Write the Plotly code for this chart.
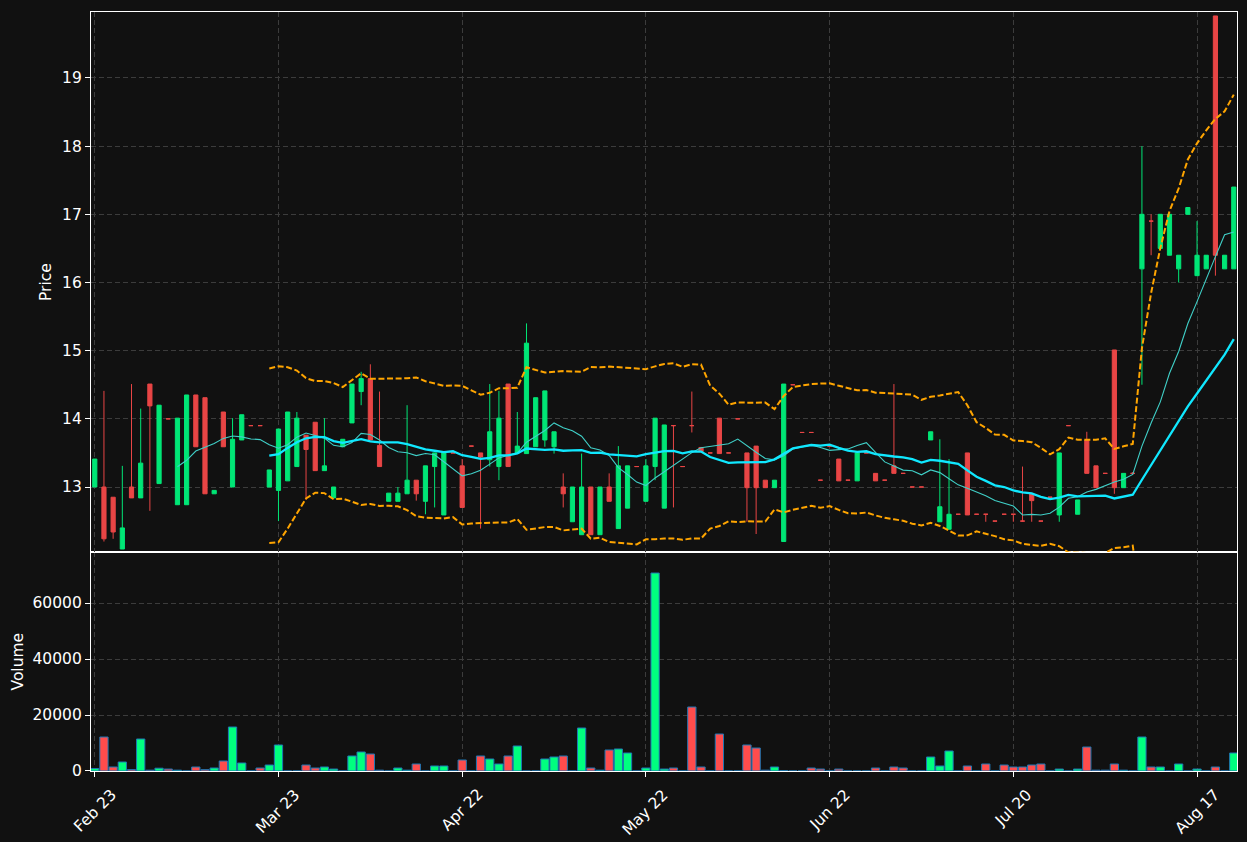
import plotly.graph_objects as go
import pandas as pd

# ---------------- data ----------------
tick_positions = [0, 20, 40, 60, 80, 100, 120]
tick_labels = ["Feb 23", "Mar 23", "Apr 22", "May 22", "Jun 22", "Jul 20", "Aug 17"]

opens = [
    13.0, 13.0, 12.85, 12.09, 13.0, 12.84, 14.51, 13.05, 14.0, 12.74,      # 0-9
    12.74, 14.35, 14.31, 12.90, 14.10, 13.0, 13.69, 13.9, 13.9, 13.0,      # 10-19
    12.95, 13.09, 13.30, 13.76, 13.95, 13.24, 12.84, 13.59, 13.94, 14.40,  # 20-29
    14.59, 13.61, 12.79, 12.79, 12.90, 13.10, 12.79, 13.30, 12.59, 13.5,   # 30-39
    13.31, 13.6, 13.50, 13.40, 13.30, 14.51, 13.50, 13.49, 13.59, 13.69,   # 40-49
    13.59, 13.0, 12.49, 12.30, 13.0, 12.30, 13.0, 12.39, 12.69, 13.3,      # 50-59
    12.79, 13.30, 12.69, 13.9, 13.3, 13.9, 13.58, 13.5, 14.01, 13.5,       # 60-69
    14.0, 13.50, 13.60, 13.10, 12.99, 12.20, 14.5, 13.8, 13.8, 13.1,       # 70-79
    13.6, 13.41, 13.1, 13.09, 13.5, 13.2, 13.1, 13.31, 13.2, 13.0,         # 80-89
    13.0, 13.69, 12.49, 12.38, 12.6, 13.50, 12.6, 12.6, 12.5, 12.6,        # 90-99
    12.6, 12.5, 12.90, 12.5, 12.85, 12.59, 13.9, 12.60, 13.69, 13.31,      # 100-109
    13.2, 15.01, 12.99, 13.2, 16.20, 16.9, 16.50, 16.40, 16.20, 17.0,      # 110-119
    16.10, 16.20, 19.91, 16.20, 16.20,                                     # 120-124
]
highs = [
    13.41, 14.41, 12.85, 13.31, 14.51, 14.15, 14.51, 14.2, 14.0, 14.01,
    14.35, 14.35, 14.31, 12.95, 14.10, 14.01, 14.06, 13.9, 13.9, 13.25,
    13.85, 14.10, 14.10, 13.76, 13.95, 14.01, 13.0, 13.70, 14.51, 14.69,
    14.80, 14.40, 12.91, 13.0, 14.20, 13.10, 13.31, 13.50, 13.50, 13.5,
    13.41, 13.6, 13.50, 14.51, 14.41, 14.51, 14.10, 15.40, 14.31, 14.41,
    13.81, 13.2, 13.0, 13.49, 13.0, 13.0, 13.2, 13.60, 13.31, 13.3,
    13.41, 14.01, 13.91, 13.9, 13.3, 14.40, 13.58, 13.5, 14.01, 13.5,
    14.0, 13.50, 13.60, 13.10, 13.10, 14.51, 14.5, 13.8, 13.8, 13.1,
    13.6, 13.41, 13.1, 13.50, 13.5, 13.2, 13.1, 14.51, 13.2, 13.0,
    13.0, 13.81, 13.70, 13.41, 12.6, 13.50, 12.6, 12.6, 12.5, 12.6,
    12.6, 13.30, 12.90, 12.5, 12.85, 13.50, 13.9, 12.81, 13.81, 13.31,
    13.2, 15.01, 13.20, 13.22, 18.0, 17.0, 17.0, 17.0, 16.40, 17.10,
    16.90, 16.40, 19.91, 16.40, 17.40,
]
lows = [
    13.0, 12.2, 12.24, 12.09, 12.84, 12.84, 12.65, 13.05, 14.0, 12.74,
    12.74, 13.59, 12.90, 12.90, 13.59, 13.0, 13.69, 13.9, 13.9, 13.0,
    12.50, 13.09, 13.30, 12.81, 13.24, 13.24, 12.84, 13.59, 13.94, 14.20,
    13.69, 13.30, 12.79, 12.79, 12.90, 12.80, 12.60, 12.70, 12.59, 13.5,
    12.70, 13.6, 12.39, 13.30, 13.10, 13.30, 13.50, 13.49, 13.59, 13.59,
    13.49, 12.7, 12.49, 12.30, 12.30, 12.30, 12.79, 12.39, 12.69, 13.3,
    12.79, 13.10, 12.69, 12.70, 13.3, 13.80, 13.52, 13.5, 13.49, 13.5,
    14.0, 12.49, 12.31, 12.99, 12.99, 12.20, 14.5, 13.8, 13.8, 13.1,
    13.6, 13.09, 13.1, 13.09, 13.5, 13.09, 13.1, 13.2, 13.2, 13.0,
    13.0, 13.69, 12.49, 12.38, 12.6, 12.59, 12.6, 12.49, 12.5, 12.6,
    12.49, 12.49, 12.49, 12.5, 12.85, 12.49, 13.9, 12.60, 13.20, 12.99,
    13.2, 12.90, 12.99, 13.18, 14.50, 16.40, 16.50, 16.40, 16.0, 17.0,
    16.10, 16.20, 16.10, 16.20, 16.20,
]
closes = [
    13.41, 12.24, 12.34, 12.40, 12.84, 13.35, 14.19, 14.2, 14.0, 14.01,
    14.35, 13.59, 12.90, 12.95, 13.59, 13.70, 14.06, 13.9, 13.9, 13.25,
    13.85, 14.10, 14.01, 13.55, 13.24, 13.31, 13.0, 13.70, 14.51, 14.59,
    13.69, 13.30, 12.91, 12.91, 13.10, 12.90, 13.31, 13.50, 13.50, 13.5,
    12.70, 13.6, 13.44, 13.81, 14.01, 13.30, 13.60, 15.11, 14.31, 14.41,
    13.81, 12.9, 13.0, 13.0, 12.30, 13.0, 12.79, 13.31, 13.31, 13.3,
    13.31, 14.01, 13.91, 13.9, 13.3, 13.9, 13.52, 13.5, 13.49, 13.5,
    14.0, 12.99, 12.99, 12.99, 13.10, 14.51, 14.5, 13.8, 13.8, 13.1,
    13.6, 13.09, 13.1, 13.50, 13.5, 13.09, 13.1, 13.2, 13.2, 13.0,
    13.0, 13.81, 12.71, 12.60, 12.6, 12.59, 12.6, 12.6, 12.5, 12.6,
    12.6, 12.5, 12.80, 12.5, 12.85, 13.50, 13.9, 12.81, 13.20, 12.99,
    13.2, 12.99, 13.20, 13.2, 17.0, 16.9, 17.0, 17.0, 16.40, 17.10,
    16.40, 16.40, 16.40, 16.40, 17.40,
]
volumes = [
    900, 12143, 1430, 3214, 500, 11430, 300, 1000, 700, 300,          # 0-9
    0, 1430, 480, 1070, 3570, 15714, 2857, 0, 1070, 2140,             # 10-19
    9286, 0, 0, 2140, 1070, 1430, 700, 0, 5357, 6786,                 # 20-29
    6070, 300, 0, 1070, 300, 2500, 0, 1786, 1786, 0,                  # 30-39
    3930, 0, 5357, 4286, 2500, 5357, 8930, 0, 0, 4286,                # 40-49
    5000, 5357, 0, 15357, 1070, 300, 7500, 7857, 6430, 0,             # 50-59
    1070, 70714, 700, 1070, 0, 22857, 1430, 0, 13214, 0,              # 60-69
    0, 9286, 8214, 300, 1430, 100, 0, 0, 1070, 700,                   # 70-79
    0, 700, 0, 0, 0, 1070, 0, 1430, 1070, 0,                          # 80-89
    0, 5000, 1786, 7143, 0, 1786, 0, 2500, 0, 2143,                   # 90-99
    1430, 1430, 2143, 2500, 0, 700, 0, 700, 8571, 300,                # 100-109
    300, 2500, 300, 0, 12143, 1430, 1430, 0, 2500, 0,                 # 110-119
    700, 0, 1430, 0, 6430,                                            # 120-124
]

# ---------------- derived ----------------
idx = list(range(len(closes)))
s = pd.Series(closes)
ma10 = s.rolling(10).mean()
ma20 = s.rolling(20).mean()
sd20 = s.rolling(20).std(ddof=0)
upper = ma20 + 2 * sd20
lower = ma20 - 2 * sd20

UP_C, DN_C = "#00e676", "#e84545"
UP_V, DN_V = "#00ff7f", "#ff4c4c"
BG = "#111111"
GRID = "#3c3c3c"
FONT = "DejaVu Sans"
FS = 15.5

up = [i for i in idx if closes[i] > opens[i]]
dn = [i for i in idx if closes[i] <= opens[i]]

fig = go.Figure()


def candle(ids, color):
    return go.Candlestick(
        x=ids,
        open=[opens[i] for i in ids], high=[highs[i] for i in ids],
        low=[lows[i] for i in ids], close=[closes[i] for i in ids],
        increasing=dict(line=dict(color=color, width=1), fillcolor=color),
        decreasing=dict(line=dict(color=color, width=1), fillcolor=color),
        whiskerwidth=0, xaxis="x2", yaxis="y2", showlegend=False,
    )


fig.add_trace(candle(up, UP_C))
fig.add_trace(candle(dn, DN_C))

fig.add_trace(go.Scatter(x=idx, y=upper, mode="lines", xaxis="x2", yaxis="y2",
                         line=dict(color="#ffa500", width=2, dash="6px,2.6px"), showlegend=False))
fig.add_trace(go.Scatter(x=idx, y=lower, mode="lines", xaxis="x2", yaxis="y2",
                         line=dict(color="#ffa500", width=2, dash="6px,2.6px"), showlegend=False))
fig.add_trace(go.Scatter(x=idx, y=ma10, mode="lines", xaxis="x2", yaxis="y2",
                         line=dict(color="#40d0c8", width=1.1), showlegend=False))
fig.add_trace(go.Scatter(x=idx, y=ma20, mode="lines", xaxis="x2", yaxis="y2",
                         line=dict(color="#10e8ff", width=2.3), showlegend=False))

vcolors = [UP_V if closes[i] > opens[i] else DN_V for i in idx]
fig.add_trace(go.Bar(x=idx, y=volumes, marker=dict(color=vcolors, line=dict(color="#1f77b4", width=1)),
                     width=0.9, xaxis="x", yaxis="y", showlegend=False))

xr = [-0.41, 124.35]
axis_common = dict(showline=True, linecolor="white", linewidth=1.2, mirror=True,
                   showgrid=True, gridcolor=GRID, griddash="5px,3px", gridwidth=1,
                   zeroline=False, tickfont=dict(family=FONT, size=FS, color="white"))

fig.update_layout(
    width=1247, height=842,
    paper_bgcolor=BG, plot_bgcolor=BG,
    margin=dict(l=91, r=10, t=12, b=71),
    boxgap=0.35,
    bargap=0.1,
    font=dict(family=FONT, color="white", size=FS),
    xaxis=dict(domain=[0, 1], anchor="y", range=xr, tickmode="array", tickvals=tick_positions,
               ticktext=[""] * len(tick_positions), ticks="outside", ticklen=5, tickcolor="white",
               rangeslider=dict(visible=False), **axis_common),
    xaxis2=dict(domain=[0, 1], anchor="y2", matches="x", range=xr, tickmode="array",
                tickvals=tick_positions, showticklabels=False, ticks="",
                rangeslider=dict(visible=False), **axis_common),
    yaxis=dict(domain=[0, 0.2885], anchor="x", range=[0, 78214], tickmode="array",
               tickvals=[0, 20000, 40000, 60000], ticktext=["0", "20000", "40000", "60000"],
               ticks="outside", ticklen=5, tickcolor="white", **axis_common),
    yaxis2=dict(domain=[0.2885, 1], anchor="x2", range=[12.046, 19.968], tickmode="array",
                tickvals=[13, 14, 15, 16, 17, 18, 19], ticks="outside", ticklen=5, tickcolor="white",
                **axis_common),
)

# rotated date labels centred under the ticks (as matplotlib draws them)
for pos, lab in zip(tick_positions, tick_labels):
    fig.add_annotation(x=pos, xref="x", y=-0.0160, yref="paper", text=lab, showarrow=False,
                       textangle=-45, xanchor="center", yanchor="top",
                       font=dict(family=FONT, size=FS, color="white"))

fig.add_annotation(x=-0.0393, xref="paper", y=(0.2885 + 1) / 2, yref="paper", text="Price",
                   showarrow=False, textangle=-90, xanchor="center", yanchor="middle",
                   font=dict(family=FONT, size=FS, color="white"))
fig.add_annotation(x=-0.0637, xref="paper", y=0.2885 / 2, yref="paper", text="Volume",
                   showarrow=False, textangle=-90, xanchor="center", yanchor="middle",
                   font=dict(family=FONT, size=FS, color="white"))

fig.write_html("out.html", config={"displayModeBar": False})

# remove the browser's default page margin so the figure sits at the window's corner
with open("out.html", "r", encoding="utf-8") as f:
    html = f.read()
html = html.replace("<head>", "<head><style>html,body{margin:0;padding:0;background:#111111;overflow:hidden;}</style>", 1)
with open("out.html", "w", encoding="utf-8") as f:
    f.write(html)
